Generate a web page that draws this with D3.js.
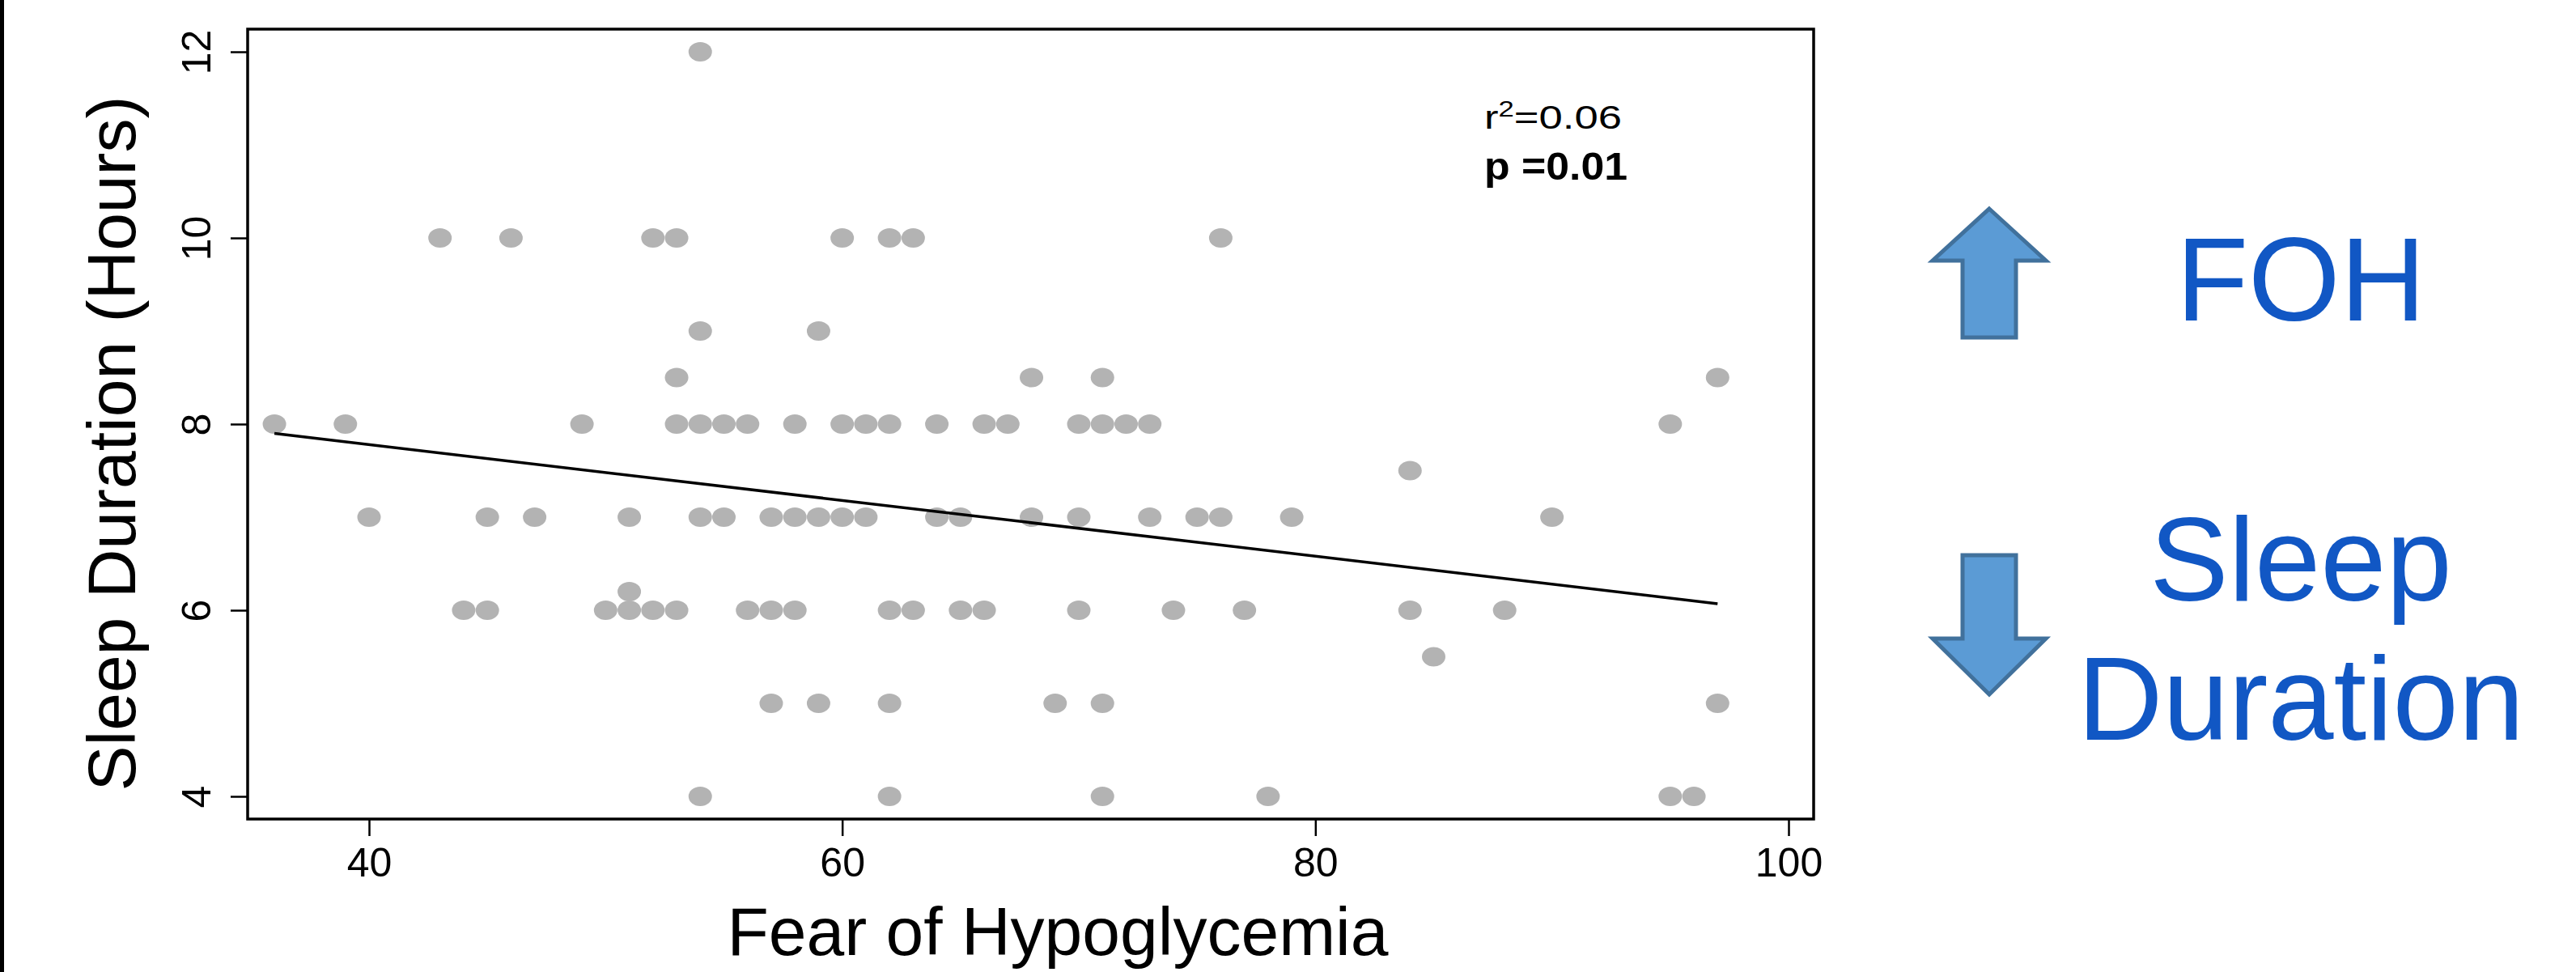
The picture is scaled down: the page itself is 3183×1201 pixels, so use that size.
<!DOCTYPE html>
<html>
<head>
<meta charset="utf-8">
<script src="https://cdn.jsdelivr.net/npm/d3@7"></script>
<style>
  html, body { margin: 0; padding: 0; background: #fff; }
  svg { display: block; }
</style>
</head>
<body>
<svg id="svg_scatter" width="3183" height="1201"></svg>
<script>
// Fear of Hypoglycemia score per participant
var fohScores = [
  54,
  43, 46, 52, 53, 60, 62, 63, 76,
  54, 59,
  53, 68, 71, 97,
  36, 39, 49, 53, 54, 55, 56, 58, 60, 61, 62, 64, 66, 67, 70, 71, 72, 73, 95,
  84,
  40, 45, 47, 51, 54, 55, 57, 58, 59, 60, 61, 64, 65, 68, 70, 73, 75, 76, 79, 90,
  51,
  44, 45, 50, 51, 52, 53, 56, 57, 58, 62, 63, 65, 66, 70, 74, 77, 84, 88,
  85,
  57, 59, 62, 69, 71, 97,
  54, 62, 71, 78, 95, 96
];
// sleep duration (hours), same order
var sleepHours = [
  12,
  10, 10, 10, 10, 10, 10, 10, 10,
  9, 9,
  8.5, 8.5, 8.5, 8.5,
  8, 8, 8, 8, 8, 8, 8, 8, 8, 8, 8, 8, 8, 8, 8, 8, 8, 8, 8,
  7.5,
  7, 7, 7, 7, 7, 7, 7, 7, 7, 7, 7, 7, 7, 7, 7, 7, 7, 7, 7, 7,
  6.2,
  6, 6, 6, 6, 6, 6, 6, 6, 6, 6, 6, 6, 6, 6, 6, 6, 6, 6,
  5.5,
  5, 5, 5, 5, 5, 5,
  4, 4, 4, 4, 4, 4
];
var xTicks = [40, 60, 80, 100];
var yTicks = [4, 6, 8, 10, 12];
// fitted line end points
var trendX = [36, 97];
var trendY = [7.90, 6.07];

var fontFamily = "'Liberation Sans', Arial, Helvetica, sans-serif";
var svg = d3.select("#svg_scatter");

var box = {left: 306, top: 36, right: 2241, bottom: 1012};

var xScale = d3.scaleLinear().domain([40, 100]).range([456, 2210]);
var yScale = d3.scaleLinear().domain([4, 12]).range([984, 64]);

// black bar on the far left edge
svg.append("rect")
    .attr("x", 0).attr("y", 0)
    .attr("width", 5).attr("height", 1201)
    .attr("fill", "#000");

var g = svg.append("g");

// points
var points = fohScores.map(function(d, i) { return {x: d, y: sleepHours[i]}; });
g.selectAll("ellipse.pt").data(points)
    .enter()
    .append("ellipse")
    .attr("class", "pt")
    .attr("cx", function(d) { return xScale(d.x); })
    .attr("cy", function(d) { return yScale(d.y); })
    .attr("rx", 14.5)
    .attr("ry", 12)
    .attr("fill", "#b3b3b3");

// regression line
var trendLine = d3.line()
    .x(function(d) { return xScale(d[0]); })
    .y(function(d) { return yScale(d[1]); });
g.append("path")
    .datum(trendX.map(function(d, i) { return [d, trendY[i]]; }))
    .attr("fill", "none")
    .attr("stroke", "#000")
    .attr("stroke-width", 3.5)
    .attr("d", trendLine);

// plot box
g.append("rect")
    .attr("x", box.left).attr("y", box.top)
    .attr("width", box.right - box.left)
    .attr("height", box.bottom - box.top)
    .attr("fill", "none")
    .attr("stroke", "#000")
    .attr("stroke-width", 3.5);

// axes
var xAxis = d3.axisBottom(xScale).tickValues(xTicks).tickSize(20).tickFormat(d3.format("d"));
var gx = g.append("g")
    .attr("transform", "translate(0," + (box.bottom + 1) + ")")
    .call(xAxis);
gx.select(".domain").remove();
gx.selectAll(".tick line").attr("stroke", "#000").attr("stroke-width", 2.5);
gx.selectAll(".tick text")
    .attr("y", 70)
    .attr("dy", 0)
    .attr("fill", "#000")
    .attr("font-family", fontFamily)
    .attr("font-size", 50);

var yAxis = d3.axisLeft(yScale).tickValues(yTicks).tickSize(21).tickFormat(d3.format("d"));
var gy = g.append("g")
    .attr("transform", "translate(" + box.left + ",0)")
    .call(yAxis);
gy.select(".domain").remove();
gy.selectAll(".tick line").attr("stroke", "#000").attr("stroke-width", 2.5);
gy.selectAll(".tick text")
    .attr("transform", "rotate(-90)")
    .attr("x", 0)
    .attr("y", -46)
    .attr("dy", 0)
    .attr("text-anchor", "middle")
    .attr("fill", "#000")
    .attr("font-family", fontFamily)
    .attr("font-size", 50);

// axis titles
svg.append("text")
    .attr("x", 1307)
    .attr("y", 1180)
    .attr("text-anchor", "middle")
    .attr("font-family", fontFamily)
    .attr("font-size", 84)
    .attr("fill", "#000")
    .text("Fear of Hypoglycemia");

svg.append("text")
    .attr("transform", "translate(167,548) rotate(-90)")
    .attr("text-anchor", "middle")
    .attr("font-family", fontFamily)
    .attr("font-size", 84)
    .attr("fill", "#000")
    .text("Sleep Duration (Hours)");

// stats
var r2 = svg.append("text")
    .attr("x", 1834)
    .attr("y", 159)
    .attr("font-family", fontFamily)
    .attr("font-size", 41)
    .attr("fill", "#000")
    .attr("textLength", 170)
    .attr("lengthAdjust", "spacingAndGlyphs");
r2.append("tspan").text("r");
r2.append("tspan").attr("dy", -15).attr("font-size", 27).text("2");
r2.append("tspan").attr("dy", 15).text("=0.06");

svg.append("text")
    .attr("x", 1834)
    .attr("y", 222)
    .attr("font-family", fontFamily)
    .attr("font-size", 49)
    .attr("font-weight", "bold")
    .attr("fill", "#000")
    .attr("textLength", 177)
    .attr("lengthAdjust", "spacingAndGlyphs")
    .text("p =0.01");

// arrows
var arrowFill = "#5b9bd5", arrowStroke = "#41719c";
function arrowPath(cx, tipY, headY, endY) {
  var hw = 70, sw = 33;
  return "M" + cx + "," + tipY +
    "L" + (cx + hw) + "," + headY +
    "L" + (cx + sw) + "," + headY +
    "L" + (cx + sw) + "," + endY +
    "L" + (cx - sw) + "," + endY +
    "L" + (cx - sw) + "," + headY +
    "L" + (cx - hw) + "," + headY + "Z";
}
svg.append("path")
    .attr("d", arrowPath(2458, 258, 322, 417))
    .attr("fill", arrowFill)
    .attr("stroke", arrowStroke)
    .attr("stroke-width", 5);
svg.append("path")
    .attr("d", arrowPath(2458, 858, 789, 686))
    .attr("fill", arrowFill)
    .attr("stroke", arrowStroke)
    .attr("stroke-width", 5);

var blue = "#1157c4";
var labels = [{text: "FOH", y: 396}, {text: "Sleep", y: 742}, {text: "Duration", y: 914}];
svg.selectAll("text.side").data(labels)
    .enter()
    .append("text")
    .attr("class", "side")
    .attr("x", 2843)
    .attr("y", function(d) { return d.y; })
    .attr("text-anchor", "middle")
    .attr("font-family", fontFamily)
    .attr("font-size", 146)
    .attr("fill", blue)
    .text(function(d) { return d.text; });
</script>
</body>
</html>
